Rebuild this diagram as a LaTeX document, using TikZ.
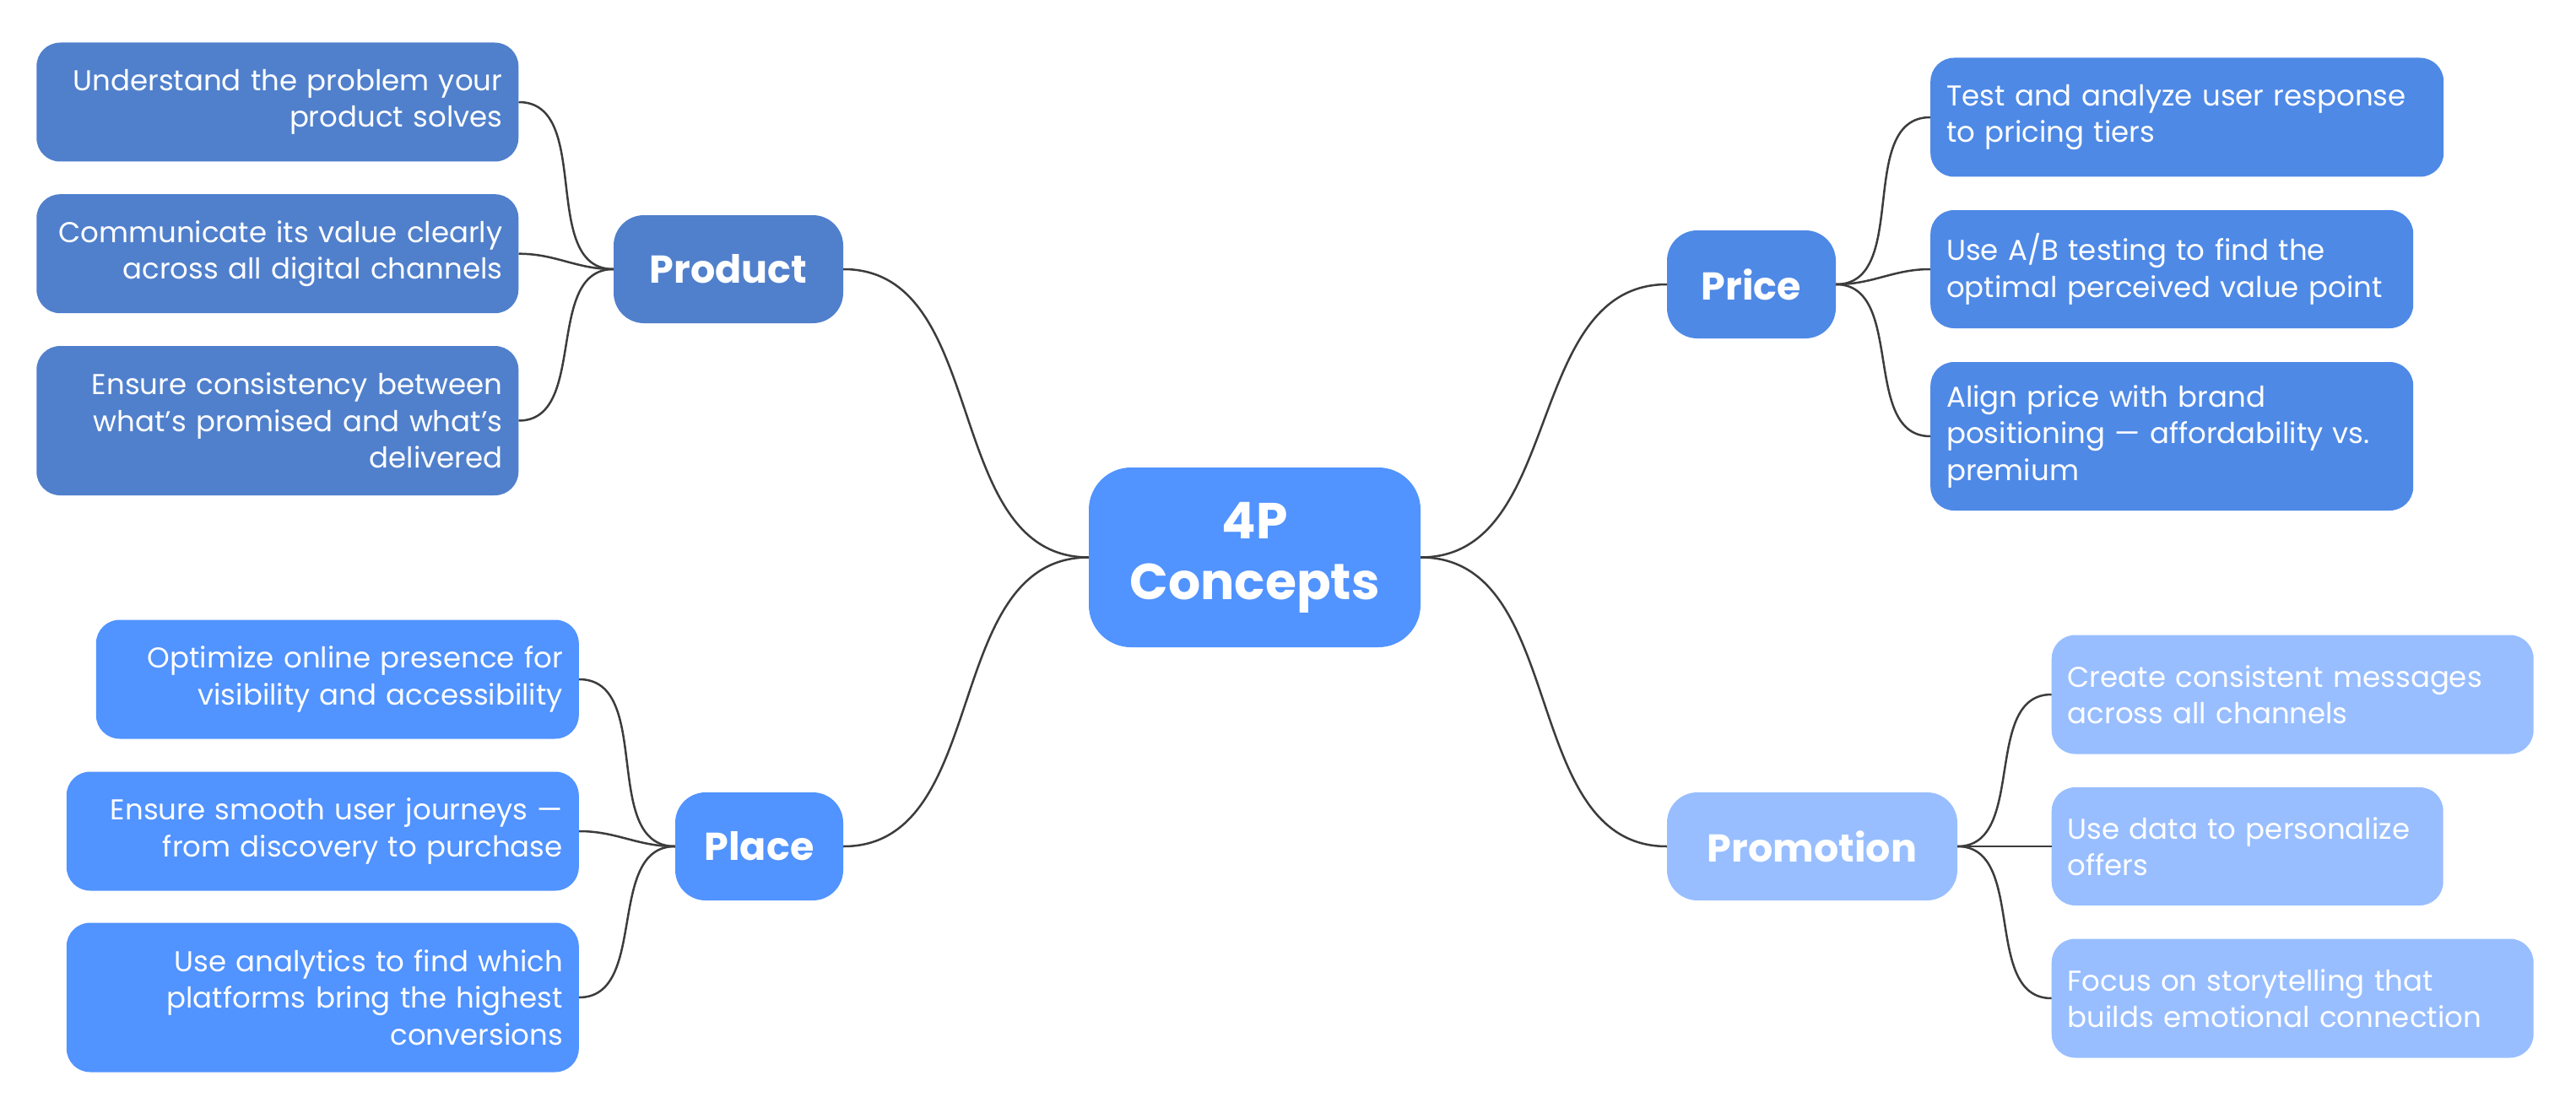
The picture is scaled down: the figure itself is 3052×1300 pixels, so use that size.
\documentclass[tikz,border=0pt]{standalone}
\usepackage{fontspec}
\setmainfont{Poppins}
\definecolor{prodblue}{HTML}{5080CC}
\definecolor{priceblue}{HTML}{4E89E6}
\definecolor{mainblue}{HTML}{5193FF}
\definecolor{promoblue}{HTML}{98BEFF}
\definecolor{linkgray}{HTML}{3C3C3C}
\begin{document}
\begin{tikzpicture}[x=1pt,y=-1pt,
    leaf/.style={rounded corners=28pt, text=white, inner xsep=19pt, inner ysep=0pt,
      font=\fontsize{34}{43.5}\selectfont},
    topic/.style={rounded corners=36pt, text=white, inner sep=0pt, minimum height=128pt,
      font=\fontsize{46}{54}\selectfont\bfseries},
    link/.style={draw=linkgray, line width=2.5pt}]
    \useasboundingbox (0,0) rectangle (3052,1300);

    % centre
    \node[topic, fill=mainblue, minimum width=393pt, minimum height=213pt, rounded corners=50pt,
      align=center, font=\fontsize{60}{72}\selectfont\bfseries] (core) at (1486.5,660.5) {4P\\Concepts};

    % the four P's
    \node[topic, fill=prodblue, minimum width=272pt] (product) at (863,319) {Product};
    \node[topic, fill=mainblue, minimum width=199pt] (place) at (899.5,1003) {Place};
    \node[topic, fill=priceblue, minimum width=200pt] (price) at (2075,337) {Price};
    \node[topic, fill=promoblue, minimum width=344pt] (promotion) at (2147,1003) {Promotion};

    % product
    \node[leaf, fill=prodblue, anchor=east, align=right, text width=533pt, minimum height=141pt] (prod1) at (614.5,121)
      {Understand the problem your\\product solves};
    \node[leaf, fill=prodblue, anchor=east, align=right, text width=533pt, minimum height=141pt] (prod2) at (614.5,300.7)
      {Communicate its value clearly\\across all digital channels};
    \node[leaf, fill=prodblue, anchor=east, align=right, text width=533pt, minimum height=177pt] (prod3) at (614.5,498.5)
      {Ensure consistency between\\what’s promised and what’s\\delivered};

    % price
    \node[leaf, fill=priceblue, anchor=west, align=left, text width=570pt, minimum height=141pt] (price1) at (2287,139)
      {Test and analyze user response\\to pricing tiers};
    \node[leaf, fill=priceblue, anchor=west, align=left, text width=534pt, minimum height=140pt] (price2) at (2287,319)
      {Use A/B testing to find the\\optimal perceived value point};
    \node[leaf, fill=priceblue, anchor=west, align=left, text width=534pt, minimum height=176pt] (price3) at (2287,517)
      {Align price with brand\\positioning — affordability vs.\\premium};

    % place
    \node[leaf, fill=mainblue, anchor=east, align=right, text width=534pt, minimum height=141pt] (place1) at (686,805)
      {Optimize online presence for\\visibility and accessibility};
    \node[leaf, fill=mainblue, anchor=east, align=right, text width=569pt, minimum height=141pt] (place2) at (686,985)
      {Ensure smooth user journeys —\\from discovery to purchase};
    \node[leaf, fill=mainblue, anchor=east, align=right, text width=569pt, minimum height=177pt] (place3) at (686,1182)
      {Use analytics to find which\\platforms bring the highest\\conversions};

    % promotion
    \node[leaf, fill=promoblue, anchor=west, align=left, text width=533pt, minimum height=141pt] (promo1) at (2430.5,823)
      {Create consistent messages\\across all channels};
    \node[leaf, fill=promoblue, anchor=west, align=left, text width=426pt, minimum height=140pt] (promo2) at (2430.5,1003)
      {Use data to personalize\\offers};
    \node[leaf, fill=promoblue, anchor=west, align=left, text width=533pt, minimum height=141pt] (promo3) at (2430.5,1183)
      {Focus on storytelling that\\builds emotional connection};

    % links
    \draw[link] (core.west) to[out=180,in=0] (product.east);
    \draw[link] (core.west) to[out=180,in=0] (place.east);
    \draw[link] (core.east) to[out=0,in=180] (price.west);
    \draw[link] (core.east) to[out=0,in=180] (promotion.west);
    \foreach \n in {prod1,prod2,prod3}
        \draw[link] (product.west) to[out=180,in=0] (\n.east);
    \foreach \n in {place1,place2,place3}
        \draw[link] (place.west) to[out=180,in=0] (\n.east);
    \foreach \n in {price1,price2,price3}
        \draw[link] (price.east) to[out=0,in=180] (\n.west);
    \foreach \n in {promo1,promo2,promo3}
        \draw[link] (promotion.east) to[out=0,in=180] (\n.west);
\end{tikzpicture}
\end{document}
